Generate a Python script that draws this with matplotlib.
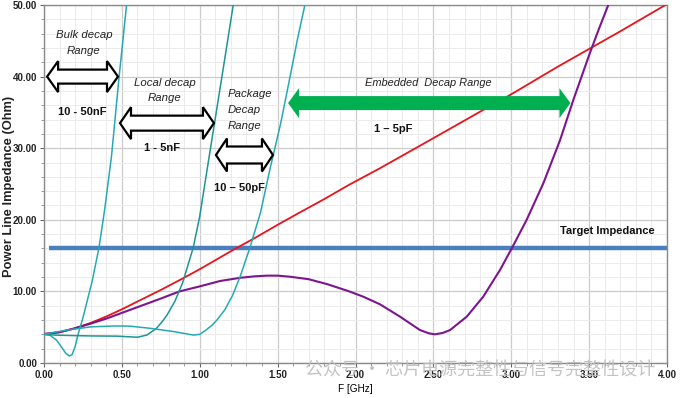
import matplotlib
matplotlib.use("Agg")
import matplotlib.pyplot as plt
from matplotlib.patches import Polygon
from matplotlib.ticker import MultipleLocator, FormatStrFormatter

# ---------------- data ----------------
bulk_f = [0.00, 0.04, 0.08, 0.11, 0.14, 0.163, 0.18, 0.20, 0.22, 0.25, 0.28, 0.31, 0.353, 0.39, 0.434, 0.48, 0.53]
bulk_z = [4.0, 3.86, 3.2, 2.3, 1.35, 0.98, 1.16, 2.3, 4.1, 6.3, 8.9, 11.5, 16.1, 21.5, 29.0, 39.5, 50.0]

local_f = [0.00, 0.07, 0.15, 0.30, 0.47, 0.60, 0.66, 0.72, 0.76, 0.79, 0.84, 0.89, 0.958, 1.00, 1.05, 1.10, 1.16, 1.215]
local_z = [4.0, 3.9, 3.85, 3.78, 3.75, 3.6, 3.9, 4.8, 5.8, 6.7, 8.6, 11.2, 16.1, 20.5, 27.4, 34.2, 42.4, 50.0]

pkg_f = [0.00, 0.07, 0.15, 0.30, 0.45, 0.55, 0.68, 0.83, 0.96, 1.00, 1.04, 1.08, 1.11, 1.16, 1.21, 1.26, 1.322, 1.39, 1.45, 1.52, 1.58, 1.63, 1.675]
pkg_z = [4.0, 4.3, 4.6, 5.05, 5.17, 5.15, 4.85, 4.4, 3.9, 4.0, 4.6, 5.3, 6.0, 7.4, 9.4, 12.1, 16.1, 21.0, 27.0, 33.5, 40.0, 45.5, 50.0]

emb_f = [0.00, 0.10, 0.19, 0.30, 0.40, 0.50, 0.62, 0.75, 0.87, 1.00, 1.13, 1.26, 1.35, 1.43, 1.50,
         1.58, 1.70, 1.82, 1.96, 2.05, 2.157, 2.286, 2.414, 2.47, 2.51, 2.56, 2.607, 2.714, 2.82,
         2.928, 3.003, 3.099, 3.206, 3.313, 3.398, 3.50, 3.56, 3.623]
emb_z = [4.05, 4.3, 4.8, 5.5, 6.2, 7.0, 7.96, 9.0, 10.0, 10.7, 11.45, 11.9, 12.1, 12.2, 12.2,
         12.05, 11.7, 11.0, 10.0, 9.26, 8.2, 6.47, 4.6, 4.15, 4.0, 4.2, 4.6, 6.47, 9.26,
         13.0, 16.0, 20.0, 25.1, 31.1, 36.7, 43.0, 46.5, 50.0]

ind_f = [0.00, 0.10, 0.20, 0.30, 0.40, 0.50, 0.62, 0.75, 0.89, 1.00, 1.215, 1.365, 1.50, 1.64,
         1.80, 1.96, 2.157, 2.50, 2.80, 2.99, 3.30, 3.544, 3.698, 3.99]
ind_z = [4.05, 4.3, 4.85, 5.6, 6.5, 7.5, 8.8, 10.2, 11.8, 13.1, 15.8, 17.6, 19.3, 21.0,
         22.9, 24.9, 27.2, 31.4, 35.1, 37.4, 41.4, 44.4, 46.3, 50.0]

target_f = [0.034, 4.0]
target_z = [16.1, 16.1]

# ---------------- figure ----------------
SANS = ['Liberation Sans', 'DejaVu Sans']
plt.rcParams['font.family'] = SANS

W, H = 686, 398
AX_L, AX_R, AX_T, AX_B = 44, 667, 5, 363
fig = plt.figure(figsize=(W/100, H/100), dpi=100)
ax = fig.add_axes([AX_L/W, 1-AX_B/H, (AX_R-AX_L)/W, (AX_B-AX_T)/H])

ax.set_xlim(0, 4)
ax.set_ylim(0, 50)
PX_X = (AX_R-AX_L)/4.0    # px per GHz
PX_Y = (AX_B-AX_T)/50.0   # px per Ohm
ax.xaxis.set_major_locator(MultipleLocator(0.5))
ax.xaxis.set_minor_locator(MultipleLocator(0.1))
ax.yaxis.set_major_locator(MultipleLocator(10))
ax.yaxis.set_minor_locator(MultipleLocator(2))
ax.xaxis.set_major_formatter(FormatStrFormatter('%.2f'))
ax.yaxis.set_major_formatter(FormatStrFormatter('%.2f'))
ax.grid(which='major', color='#cccccc', lw=0.9)
ax.grid(which='minor', color='#ebebeb', lw=0.7)
ax.set_axisbelow(True)
for s in ax.spines.values():
    s.set_color('#8a8a8a')
    s.set_linewidth(1.0)
ax.tick_params(which='major', length=3, color='#666666', labelsize=7, pad=2)
ax.tick_params(which='minor', length=2, color='#888888')
for lab in ax.get_xticklabels() + ax.get_yticklabels():
    lab.set_fontweight('bold')
    lab.set_color('#222222')

ax.set_xlabel('F [GHz]', fontsize=7.2)
ax.xaxis.set_label_coords(0.5, -0.058)
ax.set_ylabel('Power Line Impedance (Ohm)', fontsize=9.3, fontweight='bold', color='#222222')
ax.yaxis.set_label_coords(-0.0466, 0.493)

# curves
ax.plot(target_f, target_z, color='#4a7ebf', lw=3.2, solid_capstyle='butt', zorder=2)
ax.plot(ind_f, ind_z, color='#e8141c', lw=1.3, zorder=3)
ax.plot(emb_f, emb_z, color='#7d1590', lw=1.5, zorder=3)
ax.plot(bulk_f, bulk_z, color='#26a9b3', lw=1.1, zorder=3)
ax.plot(local_f, local_z, color='#1f9494', lw=1.1, zorder=3)
ax.plot(pkg_f, pkg_z, color='#26a9b3', lw=1.1, zorder=3)

# block double arrows: x range in data, heights in pixels
def darrow(x0, x1, y, head_px, tail_px, hl_px, fc, ec, lw):
    hl = hl_px / PX_X
    hw = head_px / 2 / PX_Y
    tw = tail_px / 2 / PX_Y
    pts = [(x0, y), (x0+hl, y+hw), (x0+hl, y+tw), (x1-hl, y+tw), (x1-hl, y+hw),
           (x1, y), (x1-hl, y-hw), (x1-hl, y-tw), (x0+hl, y-tw), (x0+hl, y-hw)]
    ax.add_patch(Polygon(pts, closed=True, fc=fc, ec=ec, lw=lw, joinstyle='miter', zorder=5))

darrow(0.02, 0.475, 40.0, 31, 14, 11, 'white', 'black', 1.6)
darrow(0.488, 1.091, 33.5, 32, 15, 11, 'white', 'black', 1.6)
darrow(1.104, 1.470, 29.05, 33, 17, 11, 'white', 'black', 1.6)
darrow(1.567, 3.38, 36.3, 30, 14, 11, '#00b050', 'none', 0)

it = dict(fontsize=8.2, style='italic', color='#222222', ha='center', va='center', zorder=6)
bd = dict(fontsize=8.0, fontweight='bold', color='#111111', ha='center', va='center', zorder=6)
ax.text(0.257, 44.7, 'Bulk decap\nRange', linespacing=1.8, **it)
ax.text(0.244, 35.06, '10 - 50nF', **bd)
ax.text(0.777, 38.06, 'Local decap\nRange', linespacing=1.72, **it)
ax.text(0.758, 30.03, '1 - 5nF', **bd)
it_l = dict(it); it_l['ha'] = 'left'
ax.text(1.181, 35.33, 'Package\nDecap\nRange', linespacing=1.8, **it_l)
ax.text(1.252, 24.44, '10 \u2013 50pF', **bd)
ax.text(2.465, 39.1, 'Embedded  Decap Range', **dict(it, fontsize=7.9))
ax.text(2.241, 32.68, '1 \u2013 5pF', **bd)
ax.text(3.615, 18.44, 'Target Impedance', **bd)

# watermark
fig.text(305/W, 1-371/H, '公众号 · 芯片电源完整性与信号完整性设计', fontsize=13,
         color='#bdbdbd', alpha=0.9, ha='left', va='center',
         family=['Noto Sans CJK SC', 'DejaVu Sans'], zorder=10)

fig.savefig('out.png', dpi=100)
